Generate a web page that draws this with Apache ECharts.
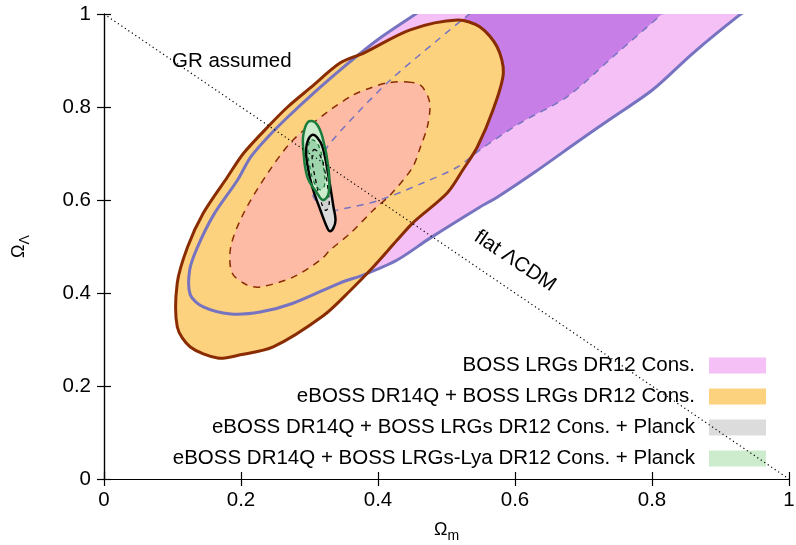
<!DOCTYPE html>
<html><head><meta charset="utf-8">
<script src="https://cdn.jsdelivr.net/npm/echarts@6/dist/echarts.min.js"></script>
<style>html,body{margin:0;padding:0;background:#fff}#c{width:796px;height:545px}</style>
</head><body><div id="c"></div>
<script>
// ---- data (Omega_m, Omega_Lambda) ----
const xTicks = [0, 0.2, 0.4, 0.6, 0.8, 1];
const yTicks = [0, 0.2, 0.4, 0.6, 0.8, 1];
const legendNames = [
  'BOSS LRGs DR12 Cons.',
  'eBOSS DR14Q + BOSS LRGs DR12 Cons.',
  'eBOSS DR14Q + BOSS LRGs DR12 Cons. + Planck',
  'eBOSS DR14Q + BOSS LRGs-Lya DR12 Cons. + Planck'
];
const bossOuter = [[0.491,1.037],[0.457,1.002],[0.399,0.944],[0.345,0.880],[0.306,0.830],[0.268,0.778],[0.239,0.735],[0.214,0.692],[0.195,0.643],[0.160,0.568],[0.136,0.497],[0.125,0.449],[0.126,0.396],[0.145,0.370],[0.185,0.355],[0.228,0.359],[0.276,0.378],[0.345,0.422],[0.379,0.439],[0.428,0.471],[0.476,0.518],[0.549,0.585],[0.574,0.606],[0.627,0.658],[0.695,0.729],[0.743,0.778],[0.801,0.837],[0.860,0.916],[0.928,0.998],[0.965,1.037]];
const bossInner = [[0.564,1.037],[0.535,1.002],[0.487,0.944],[0.418,0.858],[0.364,0.778],[0.326,0.714],[0.316,0.680],[0.306,0.643],[0.306,0.606],[0.326,0.578],[0.355,0.583],[0.403,0.600],[0.466,0.637],[0.516,0.671],[0.549,0.708],[0.608,0.766],[0.676,0.822],[0.743,0.908],[0.816,1.002],[0.841,1.037]];
const eOuter = [[0.516,0.987],[0.447,0.966],[0.379,0.916],[0.345,0.895],[0.301,0.841],[0.268,0.800],[0.239,0.757],[0.204,0.701],[0.180,0.649],[0.145,0.572],[0.122,0.499],[0.107,0.422],[0.107,0.327],[0.126,0.284],[0.166,0.260],[0.199,0.267],[0.247,0.284],[0.320,0.351],[0.360,0.406],[0.393,0.456],[0.428,0.514],[0.451,0.551],[0.501,0.615],[0.524,0.665],[0.545,0.714],[0.568,0.794],[0.583,0.873],[0.574,0.929],[0.549,0.972]];
const eInner = [[0.443,0.854],[0.462,0.847],[0.473,0.822],[0.476,0.800],[0.472,0.757],[0.462,0.714],[0.450,0.669],[0.418,0.611],[0.393,0.578],[0.360,0.529],[0.330,0.492],[0.316,0.471],[0.276,0.434],[0.228,0.413],[0.209,0.417],[0.187,0.443],[0.185,0.499],[0.204,0.572],[0.240,0.660],[0.276,0.729],[0.326,0.789],[0.364,0.826],[0.389,0.841],[0.414,0.852]];
const pOuter = [[0.304,0.740],[0.311,0.735],[0.319,0.714],[0.328,0.649],[0.335,0.585],[0.338,0.557],[0.335,0.540],[0.330,0.533],[0.326,0.540],[0.316,0.578],[0.304,0.628],[0.297,0.675],[0.295,0.708],[0.298,0.729]];
const pInner = [[0.306,0.708],[0.314,0.700],[0.322,0.665],[0.328,0.611],[0.328,0.585],[0.323,0.578],[0.316,0.600],[0.309,0.643],[0.304,0.686]];
const lyaOuter = [[0.298,0.768],[0.309,0.766],[0.319,0.735],[0.328,0.665],[0.328,0.615],[0.320,0.600],[0.311,0.615],[0.297,0.649],[0.291,0.708],[0.291,0.740]];
const lyaInner = [[0.303,0.729],[0.313,0.718],[0.320,0.675],[0.322,0.632],[0.316,0.622],[0.307,0.637],[0.300,0.675],[0.298,0.712]];
const flatLine = [[0, 1], [1, 0]];

const FONT = 'Liberation Sans';
const C = {
  pink: '#f5c0f5', purple: '#c77fe7', orange: '#fdd27f', salmon: '#fdbba5',
  grey: '#dcdcdc', grey2: '#cfcfcf', lgreen: '#cdeccd', mgreen: '#9fd5ad',
  blue: '#7673c0', brown: '#8a2c02', black: '#000000', green: '#1a7d3c'
};

let zc = 2;
function poly(name, pts, o) {
  const z = zc++;
  return {
    type: 'custom', name: name, clip: true, silent: true, z: z,
    data: pts, encode: { x: 0, y: 1 },
    itemStyle: { color: o.fill || o.stroke },
    renderItem: function (params, api) {
      if (params.dataIndex !== 0) return null;
      const p = pts.map(function (d) { return api.coord(d); });
      return {
        type: 'polygon',
        shape: { points: p, smooth: o.smooth || 0 },
        style: {
          fill: o.fill || 'none',
          stroke: o.stroke || null,
          lineWidth: o.width || 0,
          lineDash: o.dash || null,
          lineJoin: 'round'
        }
      };
    }
  };
}

const S = 0.3, SE = 0.4;
const series = [
  poly(legendNames[0], bossOuter, { fill: C.pink, smooth: S }),
  poly('boss1s', bossInner, { fill: C.purple, smooth: S }),
  poly(legendNames[1], eOuter, { fill: C.orange, smooth: S }),
  poly('e1s', eInner, { fill: C.salmon, smooth: S }),
  poly('bossL2', bossOuter, { stroke: C.blue, width: 3, smooth: S }),
  poly('bossL1', bossInner, { stroke: C.blue, width: 1.5, dash: [7, 6], smooth: S }),
  poly('eL2', eOuter, { stroke: C.brown, width: 3, smooth: S }),
  poly('eL1', eInner, { stroke: C.brown, width: 1.5, dash: [7, 6], smooth: S }),
  poly(legendNames[2], pOuter, { fill: C.grey, smooth: SE }),
  poly('p1s', pInner, { fill: C.grey2, smooth: SE }),
  poly(legendNames[3], lyaOuter, { fill: C.lgreen, smooth: SE }),
  poly('l1s', lyaInner, { fill: C.mgreen, smooth: SE }),
  poly('pL2', pOuter, { stroke: C.black, width: 2.5, smooth: SE }),
  poly('pL1', pInner, { stroke: C.black, width: 1.3, dash: [4, 4], smooth: SE }),
  poly('lL2', lyaOuter, { stroke: C.green, width: 2.5, smooth: SE }),
  poly('lL1', lyaInner, { stroke: C.green, width: 1.3, dash: [4, 4], smooth: SE }),
  {
    type: 'line', name: 'flat', data: flatLine, symbol: 'none', silent: true, z: 40,
    lineStyle: { color: '#000', width: 1.2, type: [1.2, 3] }
  }
];

const axisCommon = {
  type: 'value', min: 0, max: 1, interval: 0.2,
  axisLine: { show: true, lineStyle: { color: '#000', width: 1.2 } },
  axisTick: { show: true, inside: true, length: 7, lineStyle: { color: '#000', width: 1.2 } },
  splitLine: { show: false }
};
const nameRich = {
  a: { fontSize: 18, fontFamily: FONT, color: '#000', verticalAlign: 'top', lineHeight: 22 },
  b: { fontSize: 14, fontFamily: FONT, color: '#000', verticalAlign: 'top', lineHeight: 22, padding: [8, 0, 0, 0] }
};

const chart = echarts.init(document.getElementById('c'), null, { renderer: 'canvas' });
chart.setOption({
  animation: false,
  backgroundColor: '#fff',
  textStyle: { fontFamily: FONT },
  grid: { left: 104, right: 7, top: 14, bottom: 66, containLabel: false, outerBoundsMode: 'none' },
  xAxis: [
    Object.assign({}, axisCommon, {
      position: 'bottom',
      axisLabel: { show: true, fontSize: 20.5, color: '#000', margin: 11, fontFamily: FONT,
        customValues: xTicks },
      name: '{a|Ω}{b|m}', nameLocation: 'middle', nameGap: 42,
      nameTextStyle: { rich: nameRich }
    }),
    Object.assign({}, axisCommon, { position: 'top', axisLabel: { show: false } })
  ],
  yAxis: [
    Object.assign({}, axisCommon, {
      position: 'left',
      axisLabel: { show: true, fontSize: 20.5, color: '#000', margin: 13, fontFamily: FONT,
        customValues: yTicks },
      name: '{a|Ω}{b|Λ}', nameLocation: 'middle', nameGap: 72, nameRotate: 90,
      nameTextStyle: { rich: nameRich }
    }),
    Object.assign({}, axisCommon, { position: 'right', axisLabel: { show: false } })
  ],
  legend: {
    orient: 'vertical', right: 25, top: 350, align: 'right',
    itemWidth: 57, itemHeight: 16, itemGap: 10, selectedMode: false,
    icon: 'rect',
    textStyle: { fontSize: 20.5, color: '#000', fontFamily: FONT, padding: [0, 9, 0, 0] },
    data: [
      { name: legendNames[0], itemStyle: { color: C.pink, borderWidth: 0 } },
      { name: legendNames[1], itemStyle: { color: C.orange, borderWidth: 0 } },
      { name: legendNames[2], itemStyle: { color: C.grey, borderWidth: 0 } },
      { name: legendNames[3], itemStyle: { color: C.lgreen, borderWidth: 0 } }
    ]
  },
  graphic: [
    { type: 'text', x: 172, y: 61, z: 100, silent: true,
      style: { text: 'GR assumed', fontSize: 20.5, fontFamily: FONT, fill: '#000', align: 'left', verticalAlign: 'middle' } },
    { type: 'text', x: 515, y: 261, z: 100, silent: true, rotation: -0.59,
      style: { text: 'flat ΛCDM', fontSize: 20.5, fontFamily: FONT, fill: '#000', align: 'center', verticalAlign: 'middle' } }
  ],
  series: series
});
</script>
</body></html>
